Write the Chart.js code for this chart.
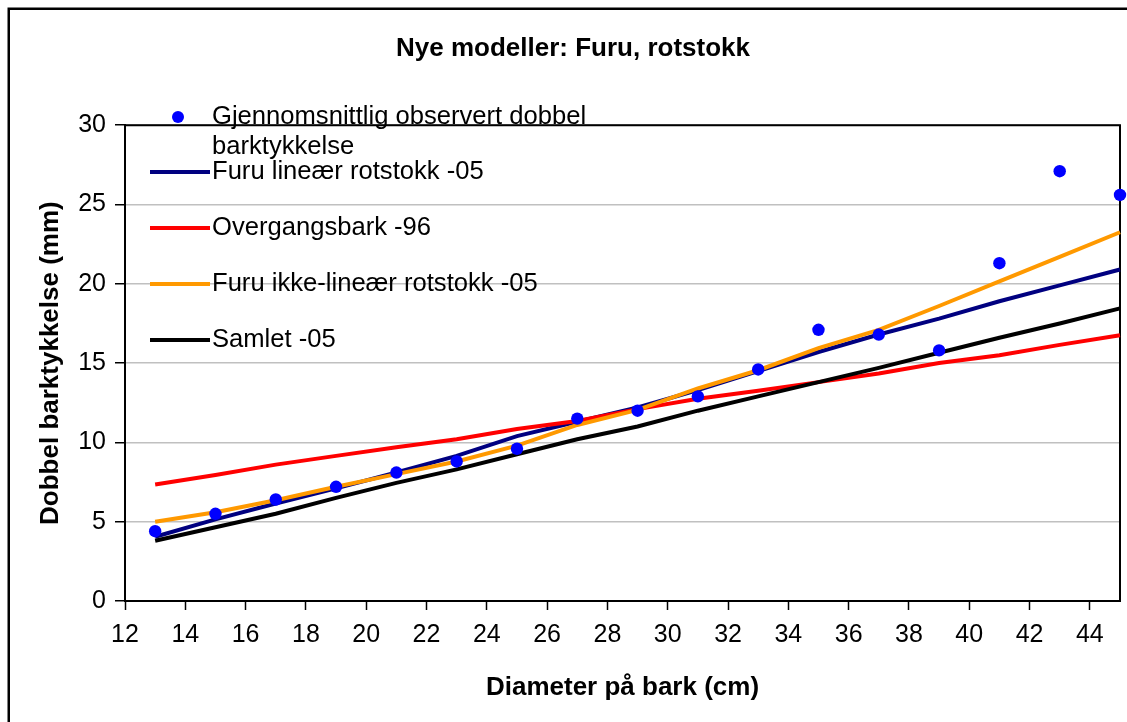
<!DOCTYPE html>
<html>
<head>
<meta charset="utf-8">
<script src="https://cdn.jsdelivr.net/npm/chart.js@4.4.1/dist/chart.umd.min.js"></script>
<style>
  html, body { margin: 0; padding: 0; background: #fff; }
</style>
</head>
<body>
<canvas id="bark-chart" width="1127" height="722"></canvas>
<script>
// diameter classes (cm) the series are given at
var diameters = [13, 15, 17, 19, 21, 23, 25, 27, 29, 31, 33, 35, 37, 39, 41, 43, 45];

// double bark thickness (mm)
var observed      = [4.4, 5.5, 6.4, 7.2, 8.1, 8.8, 9.6, 11.5, 12.0, 12.9, 14.6, 17.1, 16.8, 15.8, 21.3, 27.1, 25.6];
var furuLinear    = [4.05, 5.15, 6.15, 7.1, 8.1, 9.15, 10.4, 11.3, 12.2, 13.3, 14.5, 15.7, 16.8, 17.8, 18.9, 19.9, 20.9];
var overgangsbark = [7.35, 7.95, 8.6, 9.15, 9.7, 10.2, 10.85, 11.35, 12.1, 12.75, 13.25, 13.8, 14.35, 15.0, 15.5, 16.15, 16.75];
var furuNonLinear = [5.0, 5.6, 6.35, 7.2, 8.0, 8.8, 9.8, 11.1, 12.05, 13.4, 14.55, 15.95, 17.1, 18.6, 20.15, 21.7, 23.25];
var samlet        = [3.8, 4.65, 5.5, 6.5, 7.45, 8.3, 9.25, 10.2, 11.0, 12.0, 12.9, 13.8, 14.7, 15.65, 16.6, 17.5, 18.45];

var seriesNames = [
  'Gjennomsnittlig observert dobbel barktykkelse',
  'Furu lineær rotstokk -05',
  'Overgangsbark -96',
  'Furu ikke-lineær rotstokk -05',
  'Samlet -05'
];

// tick labels
var xTicks = [12, 14, 16, 18, 20, 22, 24, 26, 28, 30, 32, 34, 36, 38, 40, 42, 44];
var yTicks = [0, 5, 10, 15, 20, 25, 30];

var FONT = '"Liberation Sans", Arial, sans-serif';

function pts(values) {
  return diameters.map(function (d, i) { return { x: d, y: values[i] }; });
}

function lineSet(label, values, color, order) {
  return {
    label: label,
    data: pts(values),
    borderColor: color,
    backgroundColor: color,
    borderWidth: 4,
    pointRadius: 0,
    tension: 0,
    clip: false,
    order: order
  };
}

// white page + outer chart frame, plot frame top/right
var framePlugin = {
  id: 'frame',
  beforeDraw: function (chart) {
    var ctx = chart.ctx;
    ctx.save();
    ctx.fillStyle = '#fff';
    ctx.fillRect(0, 0, chart.width, chart.height);
    ctx.strokeStyle = '#000';
    ctx.lineWidth = 2.5;
    ctx.strokeRect(8.75, 8.75, 2000, 2000);
    ctx.restore();
  },
  beforeDatasetsDraw: function (chart) {
    var a = chart.chartArea, ctx = chart.ctx;
    ctx.save();
    ctx.strokeStyle = '#000';
    ctx.lineWidth = 2;
    ctx.beginPath();
    ctx.moveTo(a.left, a.top);
    ctx.lineTo(a.right, a.top);
    ctx.lineTo(a.right, a.bottom);
    ctx.stroke();
    ctx.restore();
  }
};

// legend drawn inside the plot, no box, like the original
var legendRows = [117, 172, 228, 284, 340];
var legendPlugin = {
  id: 'insideLegend',
  afterDraw: function (chart) {
    var ctx = chart.ctx;
    ctx.save();
    ctx.font = '25.6px ' + FONT;
    ctx.textBaseline = 'middle';
    chart.data.datasets.forEach(function (ds, i) {
      var y = legendRows[i];
      if (ds.showLine === false) {
        ctx.fillStyle = ds.backgroundColor;
        ctx.beginPath();
        ctx.arc(178, y, 6, 0, Math.PI * 2);
        ctx.fill();
      } else {
        ctx.strokeStyle = ds.borderColor;
        ctx.lineWidth = 4;
        ctx.beginPath();
        ctx.moveTo(150, y);
        ctx.lineTo(210, y);
        ctx.stroke();
      }
      // wrap long label
      var words = ds.label.split(' '), lines = [], cur = '';
      words.forEach(function (w) {
        var t = cur ? cur + ' ' + w : w;
        if (ctx.measureText(t).width > 400 && cur) { lines.push(cur); cur = w; }
        else cur = t;
      });
      lines.push(cur);
      ctx.fillStyle = '#000';
      lines.forEach(function (t, k) { ctx.fillText(t, 212, y + k * 30); });
    });
    ctx.restore();
  }
};

new Chart(document.getElementById('bark-chart'), {
  type: 'line',
  data: {
    datasets: [
      {
        label: seriesNames[0],
        data: pts(observed),
        showLine: false,
        pointRadius: 6.2,
        pointHoverRadius: 6.2,
        pointBorderWidth: 0,
        backgroundColor: '#0000ff',
        borderColor: '#0000ff',
        clip: false,
        order: 0
      },
      lineSet(seriesNames[1], furuLinear, '#000080', 4),
      lineSet(seriesNames[2], overgangsbark, '#ff0000', 3),
      lineSet(seriesNames[3], furuNonLinear, '#ff9900', 2),
      lineSet(seriesNames[4], samlet, '#000000', 1)
    ]
  },
  options: {
    responsive: false,
    animation: false,
    layout: { padding: { left: 26, right: 7, top: 0, bottom: 0 } },
    plugins: {
      legend: { display: false },
      tooltip: { enabled: false },
      title: {
        display: true,
        text: 'Nye modeller: Furu, rotstokk',
        color: '#000',
        font: { family: FONT, size: 26, weight: 'bold', lineHeight: 1.2 },
        padding: { top: 33, bottom: 61 }
      }
    },
    scales: {
      x: {
        type: 'linear',
        min: 12,
        max: 45,
        afterBuildTicks: function (axis) {
          axis.ticks = xTicks.map(function (v) { return { value: v }; });
        },
        afterFit: function (axis) { axis.height = 121; },
        ticks: {
          autoSkip: false,
          maxRotation: 0,
          color: '#000',
          padding: 10,
          font: { family: FONT, size: 25 }
        },
        grid: {
          drawOnChartArea: false,
          drawTicks: true,
          tickLength: 9,
          tickColor: '#000',
          tickWidth: 1.5
        },
        border: { display: true, color: '#000', width: 2 },
        title: {
          display: true,
          text: 'Diameter på bark (cm)',
          color: '#000',
          font: { family: FONT, size: 26, weight: 'bold', lineHeight: 1.2 },
          padding: { top: 0, bottom: 19 }
        }
      },
      y: {
        min: 0,
        max: 30,
        afterBuildTicks: function (axis) {
          axis.ticks = yTicks.map(function (v) { return { value: v }; });
        },
        afterFit: function (axis) { axis.width = 99; },
        ticks: {
          color: '#000',
          padding: 9,
          font: { family: FONT, size: 25 }
        },
        grid: {
          color: '#c0c0c0',
          lineWidth: 1.5,
          drawTicks: true,
          tickLength: 10,
          tickColor: '#000',
          tickWidth: 1.5
        },
        border: { display: true, color: '#000', width: 2 },
        title: {
          display: true,
          text: 'Dobbel barktykkelse (mm)',
          color: '#000',
          font: { family: FONT, size: 26, weight: 'bold', lineHeight: 1.2 },
          padding: { top: 9, bottom: 0 }
        }
      }
    }
  },
  plugins: [framePlugin, legendPlugin]
});
</script>
</body>
</html>
